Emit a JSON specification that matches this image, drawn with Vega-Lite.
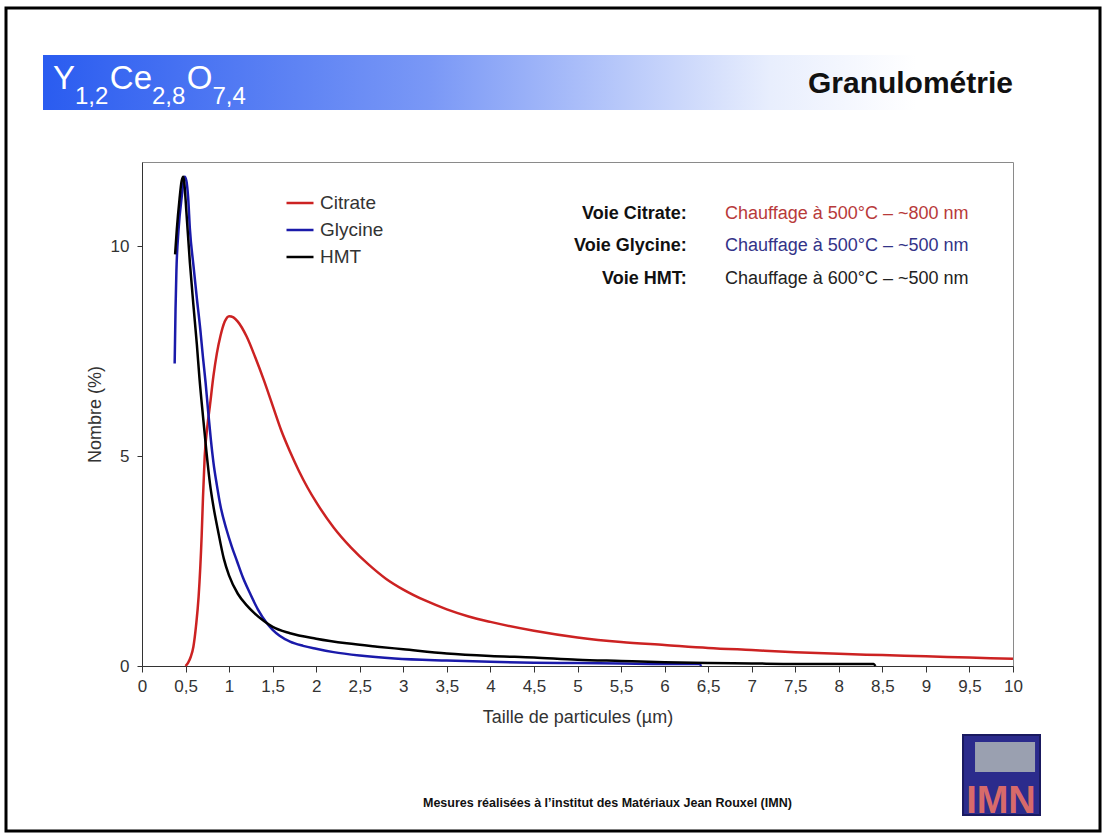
{
  "$schema": "https://vega.github.io/schema/vega-lite/v6.json",
  "width": 871,
  "height": 504,
  "autosize": {"type": "none"},
  "padding": {"left": 142, "top": 162, "right": 89, "bottom": 167},
  "background": "white",
  "config": {"font": "Liberation Sans", "view": {"stroke": "#8a8a8a", "strokeWidth": 1}},
  "data": {"values": [{}]},
  "datasets": {
    "curves": [
      {"series": "Citrate", "size": 0.50, "pct": 0},
      {"series": "Citrate", "size": 0.53, "pct": 0.08},
      {"series": "Citrate", "size": 0.56, "pct": 0.22},
      {"series": "Citrate", "size": 0.59, "pct": 0.46},
      {"series": "Citrate", "size": 0.62, "pct": 0.95},
      {"series": "Citrate", "size": 0.65, "pct": 1.65},
      {"series": "Citrate", "size": 0.685, "pct": 3.1},
      {"series": "Citrate", "size": 0.70, "pct": 4.0},
      {"series": "Citrate", "size": 0.72, "pct": 5.0},
      {"series": "Citrate", "size": 0.75, "pct": 5.7},
      {"series": "Citrate", "size": 0.78, "pct": 6.2},
      {"series": "Citrate", "size": 0.82, "pct": 6.9},
      {"series": "Citrate", "size": 0.86, "pct": 7.45},
      {"series": "Citrate", "size": 0.90, "pct": 7.85},
      {"series": "Citrate", "size": 0.95, "pct": 8.2},
      {"series": "Citrate", "size": 1.0, "pct": 8.33},
      {"series": "Citrate", "size": 1.05, "pct": 8.3},
      {"series": "Citrate", "size": 1.1, "pct": 8.2},
      {"series": "Citrate", "size": 1.2, "pct": 7.85},
      {"series": "Citrate", "size": 1.3, "pct": 7.35},
      {"series": "Citrate", "size": 1.4, "pct": 6.8},
      {"series": "Citrate", "size": 1.5, "pct": 6.2},
      {"series": "Citrate", "size": 1.6, "pct": 5.6},
      {"series": "Citrate", "size": 1.7, "pct": 5.1},
      {"series": "Citrate", "size": 1.8, "pct": 4.65},
      {"series": "Citrate", "size": 1.9, "pct": 4.25},
      {"series": "Citrate", "size": 2.0, "pct": 3.9},
      {"series": "Citrate", "size": 2.2, "pct": 3.3},
      {"series": "Citrate", "size": 2.4, "pct": 2.82},
      {"series": "Citrate", "size": 2.6, "pct": 2.42},
      {"series": "Citrate", "size": 2.8, "pct": 2.08},
      {"series": "Citrate", "size": 3.0, "pct": 1.82},
      {"series": "Citrate", "size": 3.25, "pct": 1.56},
      {"series": "Citrate", "size": 3.5, "pct": 1.35},
      {"series": "Citrate", "size": 3.75, "pct": 1.18},
      {"series": "Citrate", "size": 4.0, "pct": 1.05},
      {"series": "Citrate", "size": 4.5, "pct": 0.84},
      {"series": "Citrate", "size": 5.0, "pct": 0.68},
      {"series": "Citrate", "size": 5.5, "pct": 0.57},
      {"series": "Citrate", "size": 6.0, "pct": 0.5},
      {"series": "Citrate", "size": 6.5, "pct": 0.43},
      {"series": "Citrate", "size": 7.0, "pct": 0.38},
      {"series": "Citrate", "size": 7.5, "pct": 0.33},
      {"series": "Citrate", "size": 8.0, "pct": 0.29},
      {"series": "Citrate", "size": 8.5, "pct": 0.26},
      {"series": "Citrate", "size": 9.0, "pct": 0.23},
      {"series": "Citrate", "size": 9.5, "pct": 0.2},
      {"series": "Citrate", "size": 10.0, "pct": 0.17},
      {"series": "Glycine", "size": 0.375, "pct": 7.2},
      {"series": "Glycine", "size": 0.385, "pct": 8.5},
      {"series": "Glycine", "size": 0.395, "pct": 9.4},
      {"series": "Glycine", "size": 0.42, "pct": 10.4},
      {"series": "Glycine", "size": 0.455, "pct": 11.15},
      {"series": "Glycine", "size": 0.49, "pct": 11.65},
      {"series": "Glycine", "size": 0.51, "pct": 11.55},
      {"series": "Glycine", "size": 0.53, "pct": 11.15},
      {"series": "Glycine", "size": 0.55, "pct": 10.4},
      {"series": "Glycine", "size": 0.59, "pct": 9.55},
      {"series": "Glycine", "size": 0.63, "pct": 8.75},
      {"series": "Glycine", "size": 0.67, "pct": 8.0},
      {"series": "Glycine", "size": 0.70, "pct": 7.35},
      {"series": "Glycine", "size": 0.73, "pct": 6.75},
      {"series": "Glycine", "size": 0.76, "pct": 6.05},
      {"series": "Glycine", "size": 0.79, "pct": 5.4},
      {"series": "Glycine", "size": 0.82, "pct": 4.85},
      {"series": "Glycine", "size": 0.86, "pct": 4.3},
      {"series": "Glycine", "size": 0.90, "pct": 3.82},
      {"series": "Glycine", "size": 0.97, "pct": 3.25},
      {"series": "Glycine", "size": 1.03, "pct": 2.85},
      {"series": "Glycine", "size": 1.09, "pct": 2.5},
      {"series": "Glycine", "size": 1.16, "pct": 2.1},
      {"series": "Glycine", "size": 1.24, "pct": 1.73},
      {"series": "Glycine", "size": 1.33, "pct": 1.35},
      {"series": "Glycine", "size": 1.43, "pct": 1.03},
      {"series": "Glycine", "size": 1.5, "pct": 0.86},
      {"series": "Glycine", "size": 1.58, "pct": 0.72},
      {"series": "Glycine", "size": 1.7, "pct": 0.58},
      {"series": "Glycine", "size": 1.85, "pct": 0.48},
      {"series": "Glycine", "size": 2.0, "pct": 0.41},
      {"series": "Glycine", "size": 2.2, "pct": 0.33},
      {"series": "Glycine", "size": 2.5, "pct": 0.25},
      {"series": "Glycine", "size": 2.9, "pct": 0.18},
      {"series": "Glycine", "size": 3.5, "pct": 0.13},
      {"series": "Glycine", "size": 4.0, "pct": 0.1},
      {"series": "Glycine", "size": 4.5, "pct": 0.08},
      {"series": "Glycine", "size": 5.0, "pct": 0.07},
      {"series": "Glycine", "size": 5.5, "pct": 0.06},
      {"series": "Glycine", "size": 6.0, "pct": 0.05},
      {"series": "Glycine", "size": 6.4, "pct": 0.05},
      {"series": "Glycine", "size": 6.42, "pct": 0.0},
      {"series": "HMT", "size": 0.38, "pct": 9.8},
      {"series": "HMT", "size": 0.40, "pct": 10.4},
      {"series": "HMT", "size": 0.43, "pct": 11.1},
      {"series": "HMT", "size": 0.455, "pct": 11.55},
      {"series": "HMT", "size": 0.475, "pct": 11.65},
      {"series": "HMT", "size": 0.49, "pct": 11.4},
      {"series": "HMT", "size": 0.51, "pct": 10.8},
      {"series": "HMT", "size": 0.55, "pct": 9.6},
      {"series": "HMT", "size": 0.59, "pct": 8.6},
      {"series": "HMT", "size": 0.63, "pct": 7.65},
      {"series": "HMT", "size": 0.66, "pct": 6.85},
      {"series": "HMT", "size": 0.70, "pct": 5.95},
      {"series": "HMT", "size": 0.74, "pct": 5.1},
      {"series": "HMT", "size": 0.78, "pct": 4.35},
      {"series": "HMT", "size": 0.82, "pct": 3.8},
      {"series": "HMT", "size": 0.87, "pct": 3.25},
      {"series": "HMT", "size": 0.94, "pct": 2.55},
      {"series": "HMT", "size": 1.0, "pct": 2.15},
      {"series": "HMT", "size": 1.1, "pct": 1.72},
      {"series": "HMT", "size": 1.2, "pct": 1.45},
      {"series": "HMT", "size": 1.29, "pct": 1.26},
      {"series": "HMT", "size": 1.4, "pct": 1.07},
      {"series": "HMT", "size": 1.5, "pct": 0.93},
      {"series": "HMT", "size": 1.7, "pct": 0.78},
      {"series": "HMT", "size": 2.0, "pct": 0.65},
      {"series": "HMT", "size": 2.35, "pct": 0.54},
      {"series": "HMT", "size": 2.7, "pct": 0.46},
      {"series": "HMT", "size": 3.0, "pct": 0.4},
      {"series": "HMT", "size": 3.5, "pct": 0.3},
      {"series": "HMT", "size": 4.0, "pct": 0.24},
      {"series": "HMT", "size": 4.5, "pct": 0.2},
      {"series": "HMT", "size": 5.0, "pct": 0.15},
      {"series": "HMT", "size": 5.5, "pct": 0.12},
      {"series": "HMT", "size": 6.0, "pct": 0.09},
      {"series": "HMT", "size": 6.5, "pct": 0.07},
      {"series": "HMT", "size": 7.0, "pct": 0.06},
      {"series": "HMT", "size": 7.5, "pct": 0.05},
      {"series": "HMT", "size": 8.0, "pct": 0.05},
      {"series": "HMT", "size": 8.4, "pct": 0.05},
      {"series": "HMT", "size": 8.42, "pct": 0.0}
    ]
  },
  "layer": [
    {
      "mark": {"type": "rect", "fill": {"gradient": "linear", "x1": 0, "x2": 1, "y1": 0, "y2": 0,
        "stops": [{"offset": 0, "color": "#2a5cf0"}, {"offset": 0.4, "color": "#7a98f6"}, {"offset": 0.75, "color": "#e8eefd"}, {"offset": 0.9, "color": "#ffffff"}]}},
      "encoding": {
        "x": {"datum": -1.1366, "type": "quantitative"},
        "x2": {"datum": 10.0},
        "y": {"datum": 14.548, "type": "quantitative"},
        "y2": {"datum": 13.238}
      }
    },
    {
      "data": {"name": "curves"},
      "mark": {"type": "line", "strokeWidth": 2.5, "interpolate": "monotone"},
      "encoding": {
        "x": {
          "field": "size", "type": "quantitative",
          "scale": {"domain": [0, 10], "nice": false, "zero": false},
          "axis": {
            "title": "Taille de particules (µm)",
            "values": [0, 0.5, 1, 1.5, 2, 2.5, 3, 3.5, 4, 4.5, 5, 5.5, 6, 6.5, 7, 7.5, 8, 8.5, 9, 9.5, 10],
            "labelExpr": "replace(format(datum.value, '~g'), '.', ',')",
            "grid": false, "tickSize": 6, "tickColor": "#333", "domainColor": "#333",
            "labelFontSize": 17, "labelColor": "#333", "labelPadding": 6,
            "labelFlush": false, "labelOverlap": false,
            "titleFontSize": 18, "titleFontWeight": "normal", "titleColor": "#333", "titlePadding": 14
          }
        },
        "y": {
          "field": "pct", "type": "quantitative",
          "scale": {"domain": [0, 12], "nice": false},
          "axis": {
            "title": "Nombre (%)",
            "values": [0, 5, 10],
            "grid": false, "tickSize": 5, "tickColor": "#333", "domainColor": "#333",
            "labelFontSize": 17, "labelColor": "#333", "labelPadding": 8,
            "titleFontSize": 18, "titleFontWeight": "normal", "titleColor": "#333", "titlePadding": 6
          }
        },
        "color": {
          "field": "series", "type": "nominal",
          "scale": {"domain": ["Citrate", "Glycine", "HMT"], "range": ["#cc2222", "#1a1aaa", "#000000"]},
          "legend": {
            "orient": "none", "legendX": 143, "legendY": 26, "title": null,
            "symbolType": "stroke", "symbolSize": 729, "symbolStrokeWidth": 2.5,
            "labelFontSize": 19, "labelColor": "#333", "labelOffset": 5, "rowPadding": 2, "padding": 0
          }
        }
      }
    },
    {
      "mark": {"type": "rect", "filled": false, "stroke": "#000000", "strokeWidth": 3},
      "encoding": {
        "x": {"datum": -1.5614, "type": "quantitative"},
        "x2": {"datum": 10.999},
        "y": {"datum": 15.667, "type": "quantitative"},
        "y2": {"datum": -3.929}
      }
    },
    {"mark": {"type": "text", "text": "Y", "fontSize": 33, "color": "white", "align": "left", "baseline": "alphabetic"},
     "encoding": {"x": {"datum": -1.0218, "type": "quantitative"}, "y": {"datum": 13.738, "type": "quantitative"}}},
    {"mark": {"type": "text", "text": "1,2", "fontSize": 24, "color": "white", "align": "left", "baseline": "alphabetic"},
     "encoding": {"x": {"datum": -0.7692, "type": "quantitative"}, "y": {"datum": 13.381, "type": "quantitative"}}},
    {"mark": {"type": "text", "text": "Ce", "fontSize": 33, "color": "white", "align": "left", "baseline": "alphabetic"},
     "encoding": {"x": {"datum": -0.3697, "type": "quantitative"}, "y": {"datum": 13.738, "type": "quantitative"}}},
    {"mark": {"type": "text", "text": "2,8", "fontSize": 24, "color": "white", "align": "left", "baseline": "alphabetic"},
     "encoding": {"x": {"datum": 0.1148, "type": "quantitative"}, "y": {"datum": 13.381, "type": "quantitative"}}},
    {"mark": {"type": "text", "text": "O", "fontSize": 33, "color": "white", "align": "left", "baseline": "alphabetic"},
     "encoding": {"x": {"datum": 0.5132, "type": "quantitative"}, "y": {"datum": 13.738, "type": "quantitative"}}},
    {"mark": {"type": "text", "text": "7,4", "fontSize": 24, "color": "white", "align": "left", "baseline": "alphabetic"},
     "encoding": {"x": {"datum": 0.8083, "type": "quantitative"}, "y": {"datum": 13.381, "type": "quantitative"}}},
    {"mark": {"type": "text", "text": "Granulométrie", "fontSize": 30, "fontWeight": "bold", "color": "#111111", "align": "right", "baseline": "alphabetic"},
     "encoding": {"x": {"datum": 10.0, "type": "quantitative"}, "y": {"datum": 13.636, "type": "quantitative"}}},
    {"mark": {"type": "text", "text": "Voie Citrate:", "fontSize": 18, "fontWeight": "bold", "color": "#111111", "align": "right", "baseline": "middle"},
     "encoding": {"x": {"datum": 6.254, "type": "quantitative"}, "y": {"datum": 10.762, "type": "quantitative"}}},
    {"mark": {"type": "text", "text": "Voie Glycine:", "fontSize": 18, "fontWeight": "bold", "color": "#111111", "align": "right", "baseline": "middle"},
     "encoding": {"x": {"datum": 6.254, "type": "quantitative"}, "y": {"datum": 10.0, "type": "quantitative"}}},
    {"mark": {"type": "text", "text": "Voie HMT:", "fontSize": 18, "fontWeight": "bold", "color": "#111111", "align": "right", "baseline": "middle"},
     "encoding": {"x": {"datum": 6.254, "type": "quantitative"}, "y": {"datum": 9.214, "type": "quantitative"}}},
    {"mark": {"type": "text", "text": "Chauffage à 500°C – ~800 nm", "fontSize": 18, "color": "#b83a3a", "align": "left", "baseline": "middle"},
     "encoding": {"x": {"datum": 6.694, "type": "quantitative"}, "y": {"datum": 10.762, "type": "quantitative"}}},
    {"mark": {"type": "text", "text": "Chauffage à 500°C – ~500 nm", "fontSize": 18, "color": "#333388", "align": "left", "baseline": "middle"},
     "encoding": {"x": {"datum": 6.694, "type": "quantitative"}, "y": {"datum": 10.0, "type": "quantitative"}}},
    {"mark": {"type": "text", "text": "Chauffage à 600°C – ~500 nm", "fontSize": 18, "color": "#222222", "align": "left", "baseline": "middle"},
     "encoding": {"x": {"datum": 6.694, "type": "quantitative"}, "y": {"datum": 9.214, "type": "quantitative"}}},
    {"mark": {"type": "text", "text": "Mesures réalisées à l’institut des Matériaux Jean Rouxel (IMN)", "font": "Liberation Sans", "fontSize": 12.5, "fontWeight": "bold", "color": "#111111", "align": "left", "baseline": "alphabetic"},
     "encoding": {"x": {"datum": 3.226, "type": "quantitative"}, "y": {"datum": -3.357, "type": "quantitative"}}},
    {"mark": {"type": "rect", "fill": "#2b2b8c", "stroke": "#1a1a60", "strokeWidth": 2},
     "encoding": {"x": {"datum": 9.426, "type": "quantitative"}, "x2": {"datum": 10.31}, "y": {"datum": -1.643, "type": "quantitative"}, "y2": {"datum": -3.548}}},
    {"mark": {"type": "rect", "fill": "#9aa0b0"},
     "encoding": {"x": {"datum": 9.564, "type": "quantitative"}, "x2": {"datum": 10.253}, "y": {"datum": -1.81, "type": "quantitative"}, "y2": {"datum": -2.524}}},
    {"mark": {"type": "text", "text": "IMN", "fontSize": 38, "fontWeight": "bold", "color": "#d86a6a", "align": "center", "baseline": "alphabetic"},
     "encoding": {"x": {"datum": 9.862, "type": "quantitative"}, "y": {"datum": -3.5, "type": "quantitative"}}}
  ]
}
